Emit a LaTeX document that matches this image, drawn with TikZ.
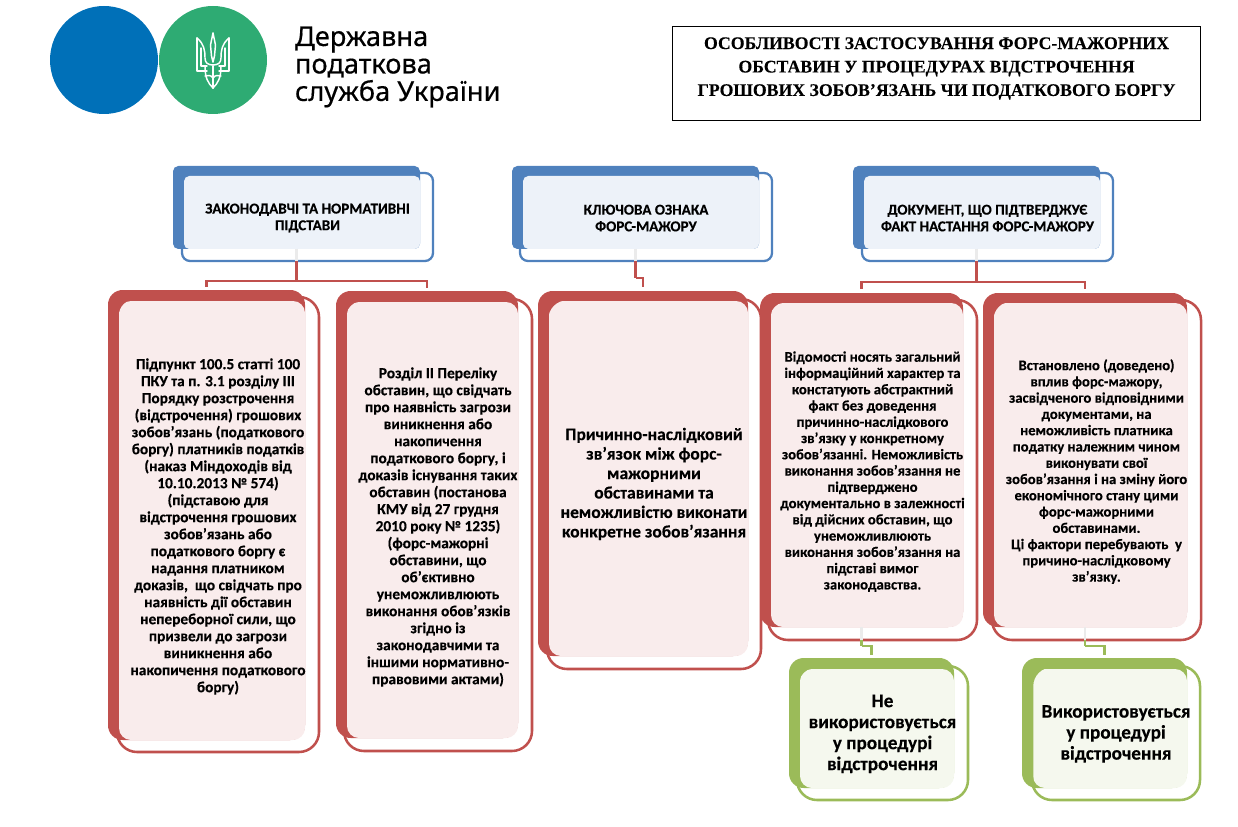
\documentclass[tikz,border=0pt]{standalone}
\usepackage{fontspec}
\setmainfont{Carlito}[BoldFeatures={FakeBold=0.25}]
\newfontfamily\titlefont{Liberation Serif}[BoldFeatures={FakeBold=0.2}]
\newfontfamily\logofont{Noto Sans}[FakeBold=0.5]
\usepackage{xcolor}
\usetikzlibrary{fit, calc}
\definecolor{hdrblue}{HTML}{4F81BD}
\definecolor{hdrpale}{HTML}{EDF2F9}
\definecolor{cardred}{HTML}{C0504D}
\definecolor{cardpale}{HTML}{F9ECEC}
\definecolor{verdgreen}{HTML}{9BBB59}
\definecolor{verdpale}{HTML}{F5F8EE}
\definecolor{logoblue}{HTML}{0070B8}
\definecolor{logogreen}{HTML}{2EAB73}

\begin{document}
\begin{tikzpicture}[x=0.75pt, y=-0.75pt,
    every node/.style={inner sep=0pt, outer sep=0pt, align=center, font=\bfseries},
    hdrback/.style={fill=hdrblue, rounded corners=4pt},
    hdrpanel/.style={fill=hdrpale, rounded corners=4pt},
    hdrfront/.style={draw=hdrblue, line width=1.7pt, rounded corners=6pt},
    hdrtext/.style={yshift=-0.8pt, font=\fontsize{11.3}{12.5}\bfseries\selectfont},
    cardback/.style={fill=cardred, rounded corners=11pt},
    cardpanel/.style={fill=cardpale, rounded corners=9pt},
    cardfront/.style={draw=cardred, line width=1.9pt, rounded corners=15pt},
    cardtext/.style={yshift=-1.5pt, font=\fontsize{11.5}{12.75}\bfseries\selectfont},
    infotext/.style={yshift=-1.2pt, font=\fontsize{11}{12.2}\bfseries\selectfont},
    keytext/.style={font=\fontsize{13.1}{14.6}\bfseries\selectfont},
    verdback/.style={fill=verdgreen, rounded corners=11pt},
    verdpanel/.style={fill=verdpale, rounded corners=9pt},
    verdfront/.style={draw=verdgreen, line width=1.9pt, rounded corners=15pt},
    verdtext/.style={yshift=-0.7pt, font=\fontsize{14.4}{15.75}\bfseries\selectfont},
    redlink/.style={draw=cardred, line width=1.8pt},
    greenlink/.style={draw=verdgreen, line width=1.8pt},
    linkstub/.style={draw=black!8, line width=1.8pt},
    trident/.style={draw=white, line width=1.1pt, line cap=round, line join=round}]
  \useasboundingbox (0,0) rectangle (1238,827);

  % logo
  \node[circle, fill=logoblue, minimum size=81pt] (logoa) at (104,60) {};
  \node[circle, fill=logogreen, minimum size=81pt] (logob) at (213,60) {};
  \foreach \s in {-1,1} {
    \begin{scope}[shift={(213,0)}, xscale=\s]
      \draw[trident] (0,33) -- (2.5,45) -- (1.5,56) -- (0,62);
      \draw[trident] (16,38) -- (16,71) -- (6,71);
      \draw[trident] (16,38) .. controls (9,44) and (8,50) .. (8,58) .. controls (8,63) and (5,65) .. (0,65);
      \draw[trident] (12,48) -- (12,66) -- (6,66);
      \draw[trident] (8,66) .. controls (8,78) and (5,83) .. (0,88);
      \draw[trident] (0,66) -- (0,88);
      \draw[trident] (8,76) .. controls (5,75) and (2,75) .. (0,78);
    \end{scope}
  }
  \node[anchor=west, align=left, font=\logofont\fontsize{20.4}{20.6}\selectfont] (logotext) at (295,67) {Державна\\податкова\\служба України};

  % title
  \node[draw=black, line width=0.75pt, fit={(672,27) (1200,121)}] (titlebox) {};
  \node[font=\titlefont\bfseries\fontsize{13.3}{17.6}\selectfont] (titletext) at (936.5,68.5)
    {ОСОБЛИВОСТІ ЗАСТОСУВАННЯ ФОРС-МАЖОРНИХ\\ОБСТАВИН У ПРОЦЕДУРАХ ВІДСТРОЧЕННЯ\\ГРОШОВИХ ЗОБОВ’ЯЗАНЬ ЧИ ПОДАТКОВОГО БОРГУ};

  % headers
  \node[hdrback, fit={(173,166) (420,249)}] (hdrlawback) {};
  \node[hdrpanel, fit={(184,176) (420,249)}] (hdrlawpanel) {};
  \node[hdrfront, fit={(182,173) (433,261)}] (hdrlaw) {};
  \node[hdrtext] (hdrlawtext) at (hdrlaw) {ЗАКОНОДАВЧІ ТА НОРМАТИВНІ\\ПІДСТАВИ};

  \node[hdrback, fit={(512,166) (759,249)}] (hdrsignback) {};
  \node[hdrpanel, fit={(523,176) (759,249)}] (hdrsignpanel) {};
  \node[hdrfront, fit={(520,173) (772,261)}] (hdrsign) {};
  \node[hdrtext] (hdrsigntext) at (hdrsign) {КЛЮЧОВА ОЗНАКА\\ФОРС-МАЖОРУ};

  \node[hdrback, fit={(853,166) (1100,249)}] (hdrdocback) {};
  \node[hdrpanel, fit={(864,176) (1100,249)}] (hdrdocpanel) {};
  \node[hdrfront, fit={(862,173) (1113,261)}] (hdrdoc) {};
  \node[hdrtext] (hdrdoctext) at (hdrdoc) {ДОКУМЕНТ, ЩО ПІДТВЕРДЖУЄ\\ФАКТ НАСТАННЯ ФОРС-МАЖОРУ};

  % red cards
  \node[cardback, fit={(108,290) (305,740)}] (cardtaxback) {};
  \node[cardpanel, fit={(119,301) (305,740)}] (cardtaxpanel) {};
  \node[cardfront, fit={(117,297) (319,752)}] (cardtax) {};
  \node[cardtext] (cardtaxtext) at (cardtax)
    {Підпункт 100.5 статті 100\\ПКУ та п. 3.1 розділу ІІІ\\Порядку розстрочення\\(відстрочення) грошових\\зобов’язань (податкового\\боргу) платників податків\\(наказ Міндоходів від\\10.10.2013 № 574)\\(підставою для\\відстрочення грошових\\зобов’язань або\\податкового боргу є\\надання платником\\доказів,\ \ що свідчать про\\наявність дії обставин\\непереборної сили, що\\призвели до загрози\\виникнення або\\накопичення податкового\\боргу)};

  \node[cardback, fit={(336,291) (518,738)}] (cardkmuback) {};
  \node[cardpanel, fit={(347,302) (518,738)}] (cardkmupanel) {};
  \node[cardfront, fit={(344,299) (532,751)}] (cardkmu) {};
  \node[cardtext] (cardkmutext) at (cardkmu)
    {Розділ ІІ Переліку\\обставин, що свідчать\\про наявність загрози\\виникнення або\\накопичення\\податкового боргу, і\\доказів існування таких\\обставин (постанова\\КМУ від 27 грудня\\2010 року № 1235)\\(форс-мажорні\\обставини, що\\об’єктивно\\унеможливлюють\\виконання обов’язків\\згідно із\\законодавчими та\\іншими нормативно-\\правовими актами)};

  \node[cardback, fit={(538,291) (748,656)}] (cardkeyback) {};
  \node[cardpanel, fit={(549,301) (748,656)}] (cardkeypanel) {};
  \node[cardfront, fit={(547,299) (761,669)}] (cardkey) {};
  \node[keytext] (cardkeytext) at (cardkey)
    {Причинно-наслідковий\\зв’язок між форс-\\мажорними\\обставинами та\\неможливістю виконати\\конкретне зобов’язання};

  \node[cardback, fit={(760,293) (963,627)}] (cardinfoback) {};
  \node[cardpanel, fit={(771,303) (963,627)}] (cardinfopanel) {};
  \node[cardfront, fit={(768,300) (977,640)}] (cardinfo) {};
  \node[infotext] (cardinfotext) at (cardinfo)
    {Відомості носять загальний\\інформаційний характер та\\констатують абстрактний\\факт без доведення\\причинно-наслідкового\\зв’язку у конкретному\\зобов’язанні. Неможливість\\виконання зобов’язання не\\підтверджено\\документально в залежності\\від дійсних обставин, що\\унеможливлюють\\виконання зобов’язання на\\підставі вимог\\законодавства.};

  \node[cardback, fit={(983,293) (1187,627)}] (cardproofback) {};
  \node[cardpanel, fit={(994,303) (1187,627)}] (cardproofpanel) {};
  \node[cardfront, fit={(992,300) (1201,640)}] (cardproof) {};
  \node[infotext] (cardprooftext) at (cardproof)
    {Встановлено (доведено)\\вплив форс-мажору,\\засвідченого відповідними\\документами, на\\неможливість платника\\податку належним чином\\виконувати свої\\зобов’язання і на зміну його\\економічного стану цими\\форс-мажорними\\обставинами.\\Ці фактори перебувають\ \ у\\причино-наслідковому\\зв’язку.};

  % green cards
  \node[verdback, fit={(789,658) (954,788)}] (verdnoback) {};
  \node[verdpanel, fit={(800,669) (954,788)}] (verdnopanel) {};
  \node[verdfront, fit={(797,666) (968,800)}] (verdno) {};
  \node[verdtext] (verdnotext) at (verdno) {Не\\використовується\\у процедурі\\відстрочення};

  \node[verdback, fit={(1022,658) (1187,788)}] (verdyesback) {};
  \node[verdpanel, fit={(1033,669) (1187,788)}] (verdyespanel) {};
  \node[verdfront, fit={(1032,666) (1200,800)}] (verdyes) {};
  \node[verdtext] (verdyestext) at (verdyes) {Використовується\\у процедурі\\відстрочення};

  % connectors
  \foreach \n/\f in {hdrlawback/hdrlaw, hdrsignback/hdrsign, hdrdocback/hdrdoc, cardinfoback/cardinfo, cardproofback/cardproof}
    \draw[linkstub] (\n.south) -- (\n.south |- \f.south);

  \coordinate (lawbus) at ($(hdrlaw.south -| hdrlawback.south)+(0,20)$);
  \coordinate (signbus) at ($(hdrsign.south -| hdrsignback.south)+(0,17)$);
  \coordinate (docbus) at ($(hdrdoc.south -| hdrdocback.south)+(0,21)$);
  \coordinate (infobus) at ($(cardinfo.south -| cardinfoback.south)+(0,6)$);
  \coordinate (proofbus) at ($(cardproof.south -| cardproofback.south)+(0,6)$);

  \draw[redlink] (hdrlaw.south -| hdrlawback.south) -- (lawbus);
  \draw[redlink, shorten >=2.2pt] (lawbus) -| (cardtaxback.north);
  \draw[redlink, shorten >=2.2pt] (lawbus) -| (cardkmuback.north);
  \draw[redlink] (hdrsign.south -| hdrsignback.south) -- (signbus);
  \draw[redlink, shorten >=3pt] (signbus) -| (cardkeyback.north);
  \draw[redlink] (hdrdoc.south -| hdrdocback.south) -- (docbus);
  \draw[redlink, shorten >=3pt] (docbus) -| (cardinfoback.north);
  \draw[redlink, shorten >=3pt] (docbus) -| (cardproofback.north);
  \draw[greenlink] (cardinfo.south -| cardinfoback.south) -- (infobus);
  \draw[greenlink, shorten >=2.6pt] (infobus) -| (verdnoback.north);
  \draw[greenlink] (cardproof.south -| cardproofback.south) -- (proofbus);
  \draw[greenlink, shorten >=2.6pt] (proofbus) -| (verdyesback.north);
\end{tikzpicture}
\end{document}
